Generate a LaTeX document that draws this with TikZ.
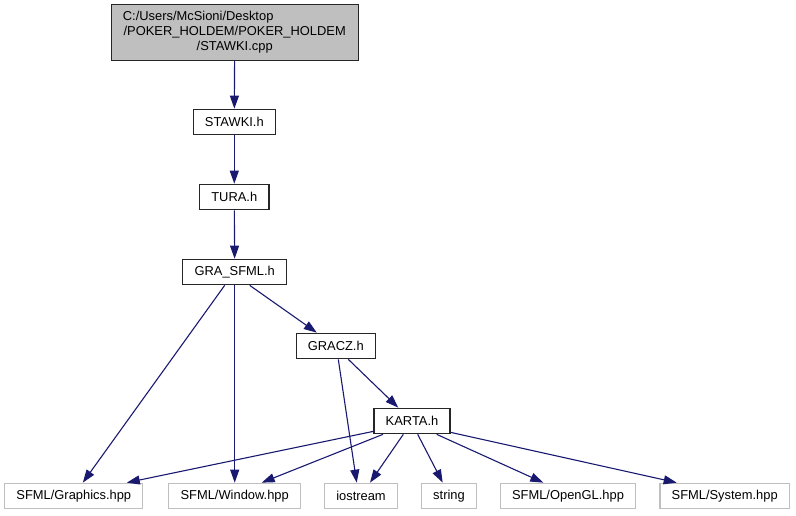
\documentclass[tikz,border=0pt]{standalone}
\usepackage{fontspec}
\setsansfont{Liberation Sans}
\usetikzlibrary{arrows.meta}
\definecolor{edgeblue}{RGB}{25,25,112}
\definecolor{extgray}{RGB}{191,191,191}
\definecolor{rootgray}{RGB}{191,191,191}

\begin{document}
\begin{tikzpicture}[
    x=1pt, y=-1pt,
    font=\sffamily\fontsize{12.9}{15}\selectfont,
    hdr/.style={rectangle, draw=black!85, line width=1.2pt, fill=white, inner xsep=11.7pt, inner ysep=0pt, minimum height=25.5pt},
    root/.style={hdr, fill=rootgray, text width=223.6pt, align=center, minimum height=56pt},
    ext/.style={hdr, draw=extgray},
    dep/.style={draw=edgeblue, line width=1.1pt, -{Triangle[length=13pt,width=9pt]}}
]
\useasboundingbox (0,0) rectangle (796,515);

\node[root] (cpp) at (234.7, 32.5) {%
    C:/Users/McSioni/Desktop\hfill\null\\
    /POKER\_HOLDEM/POKER\_HOLDEM\\
    /STAWKI.cpp};

\node[hdr] (stawki) at (234.3, 122) {STAWKI.h};
\node[hdr] (tura)   at (234.3, 197) {TURA.h};
\node[hdr] (gra)    at (234.7, 272) {GRA\_SFML.h};
\node[hdr] (gracz)  at (335.8, 346) {GRACZ.h};
\node[hdr] (karta)  at (412.0, 421) {KARTA.h};

\node[ext] (graphics) at ( 73.8, 496) {SFML/Graphics.hpp};
\node[ext] (window)   at (234.7, 496) {SFML/Window.hpp};
\node[ext] (iostream) at (361.0, 496) {iostream};
\node[ext] (string)   at (449.0, 496) {string};
\node[ext] (opengl)   at (568.0, 496) {SFML/OpenGL.hpp};
\node[ext] (system)   at (724.7, 496) {SFML/System.hpp};

\draw[dep] (cpp) -- (stawki);
\draw[dep] (stawki) -- (tura);
\draw[dep] (tura) -- (gra);

\draw[dep] ([xshift=15pt]gra.south) -- ([xshift=-19pt]gracz.north);
\draw[dep] ([xshift=-10pt]gra.south) -- ([xshift=9pt]graphics.north);
\draw[dep] (gra) -- (window);

\draw[dep] ([xshift=2.5pt]gracz.south) -- ([xshift=-4.3pt]iostream.north);
\draw[dep] ([xshift=12.5pt]gracz.south) -- ([xshift=-13.7pt]karta.north);

\draw[dep] ([yshift=3pt]karta.south west) -- ([xshift=53pt]graphics.north);
\draw[dep] ([xshift=-29pt]karta.south) -- ([xshift=27pt]window.north);
\draw[dep] ([xshift=-8.7pt]karta.south) -- ([xshift=9pt]iostream.north);
\draw[dep] ([xshift=5.7pt]karta.south) -- ([xshift=-6.3pt]string.north);
\draw[dep] ([xshift=24.7pt]karta.south) -- ([xshift=-24.7pt]opengl.north);
\draw[dep] ([yshift=2pt]karta.south east) -- ([xshift=-48pt]system.north);
\end{tikzpicture}
\end{document}
